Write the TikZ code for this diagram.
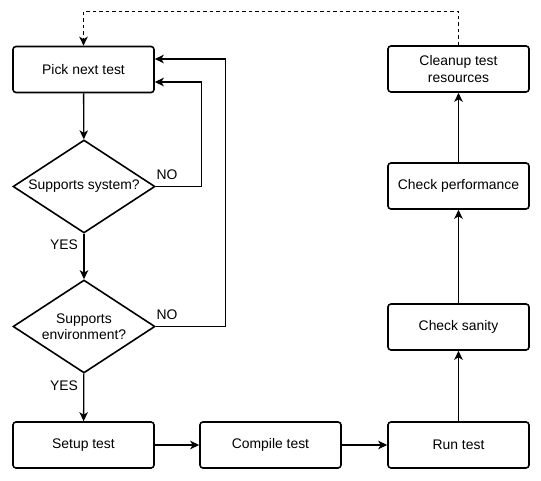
\documentclass[tikz,border=0pt]{standalone}
\usepackage{fontspec}
\setmainfont{Liberation Sans}
\usetikzlibrary{arrows.meta,positioning,shapes.geometric}

\begin{document}
\begin{tikzpicture}[x=1pt, y=-1pt,
    box/.style={draw, line width=1.6pt, rounded corners=3pt, minimum width=141pt,
        minimum height=46pt, align=center, font=\fontsize{13.9}{16.5}\selectfont},
    choice/.style={draw, diamond, line width=1.6pt, inner sep=0pt, aspect=1.53,
        minimum width=142pt, minimum height=93pt, align=center,
        font=\fontsize{13.9}{16.5}\selectfont},
    lbl/.style={font=\fontsize{13.9}{16.5}\selectfont, inner sep=0pt},
    arrow/.style={line width=1.3pt, -{Stealth[length=9pt, width=8.5pt, inset=2.5pt]}}]

    \useasboundingbox (0,0) rectangle (541,481);

    % Left column
    \node[box] (pick) at (83.5, 69.5) {Pick next test};
    \node[choice] (sys) at (84, 186.5) {Supports system?};
    \node[choice] (env) at (84, 326.5) {Supports\\environment?};
    \node[box] (setup) at (83.5, 445) {Setup test};

    % Bottom row and right column
    \node[box] (compile) at (270.5, 445) {Compile test};
    \node[box] (run) at (458.5, 445) {Run test};
    \node[box] (sanity) at (458.5, 327) {Check sanity};
    \node[box] (perf) at (458.5, 186) {Check performance};
    \node[box] (cleanup) at (458.5, 69) {Cleanup test\\resources};

    % Labels
    \node[lbl] (nosys) at (167, 175) {NO};
    \node[lbl] (noenv) at (167, 315) {NO};
    \node[lbl] (yessys) at (64, 245) {YES};
    \node[lbl] (yesenv) at (64, 386) {YES};

    % Arrows
    \draw[arrow] (pick) -- (sys);
    \draw[arrow] (sys) -- (env);
    \draw[arrow] (env) -- (setup);
    \draw[arrow] (setup) -- (compile);
    \draw[arrow] (compile) -- (run);
    \draw[arrow] (run) -- (sanity);
    \draw[arrow] (sanity) -- (perf);
    \draw[arrow] (perf) -- (cleanup);

    % Loops back
    \draw[arrow] (sys.east) -- ++(46,0) |- ([yshift=-12.5pt]pick.east);
    \draw[arrow] (env.east) -- ++(70,0) |- ([yshift=10.5pt]pick.east);
    \draw[arrow, dash pattern=on 3.5pt off 3pt] (cleanup.north) -- ++(0,-34) -| (pick.north);

\end{tikzpicture}
\end{document}
